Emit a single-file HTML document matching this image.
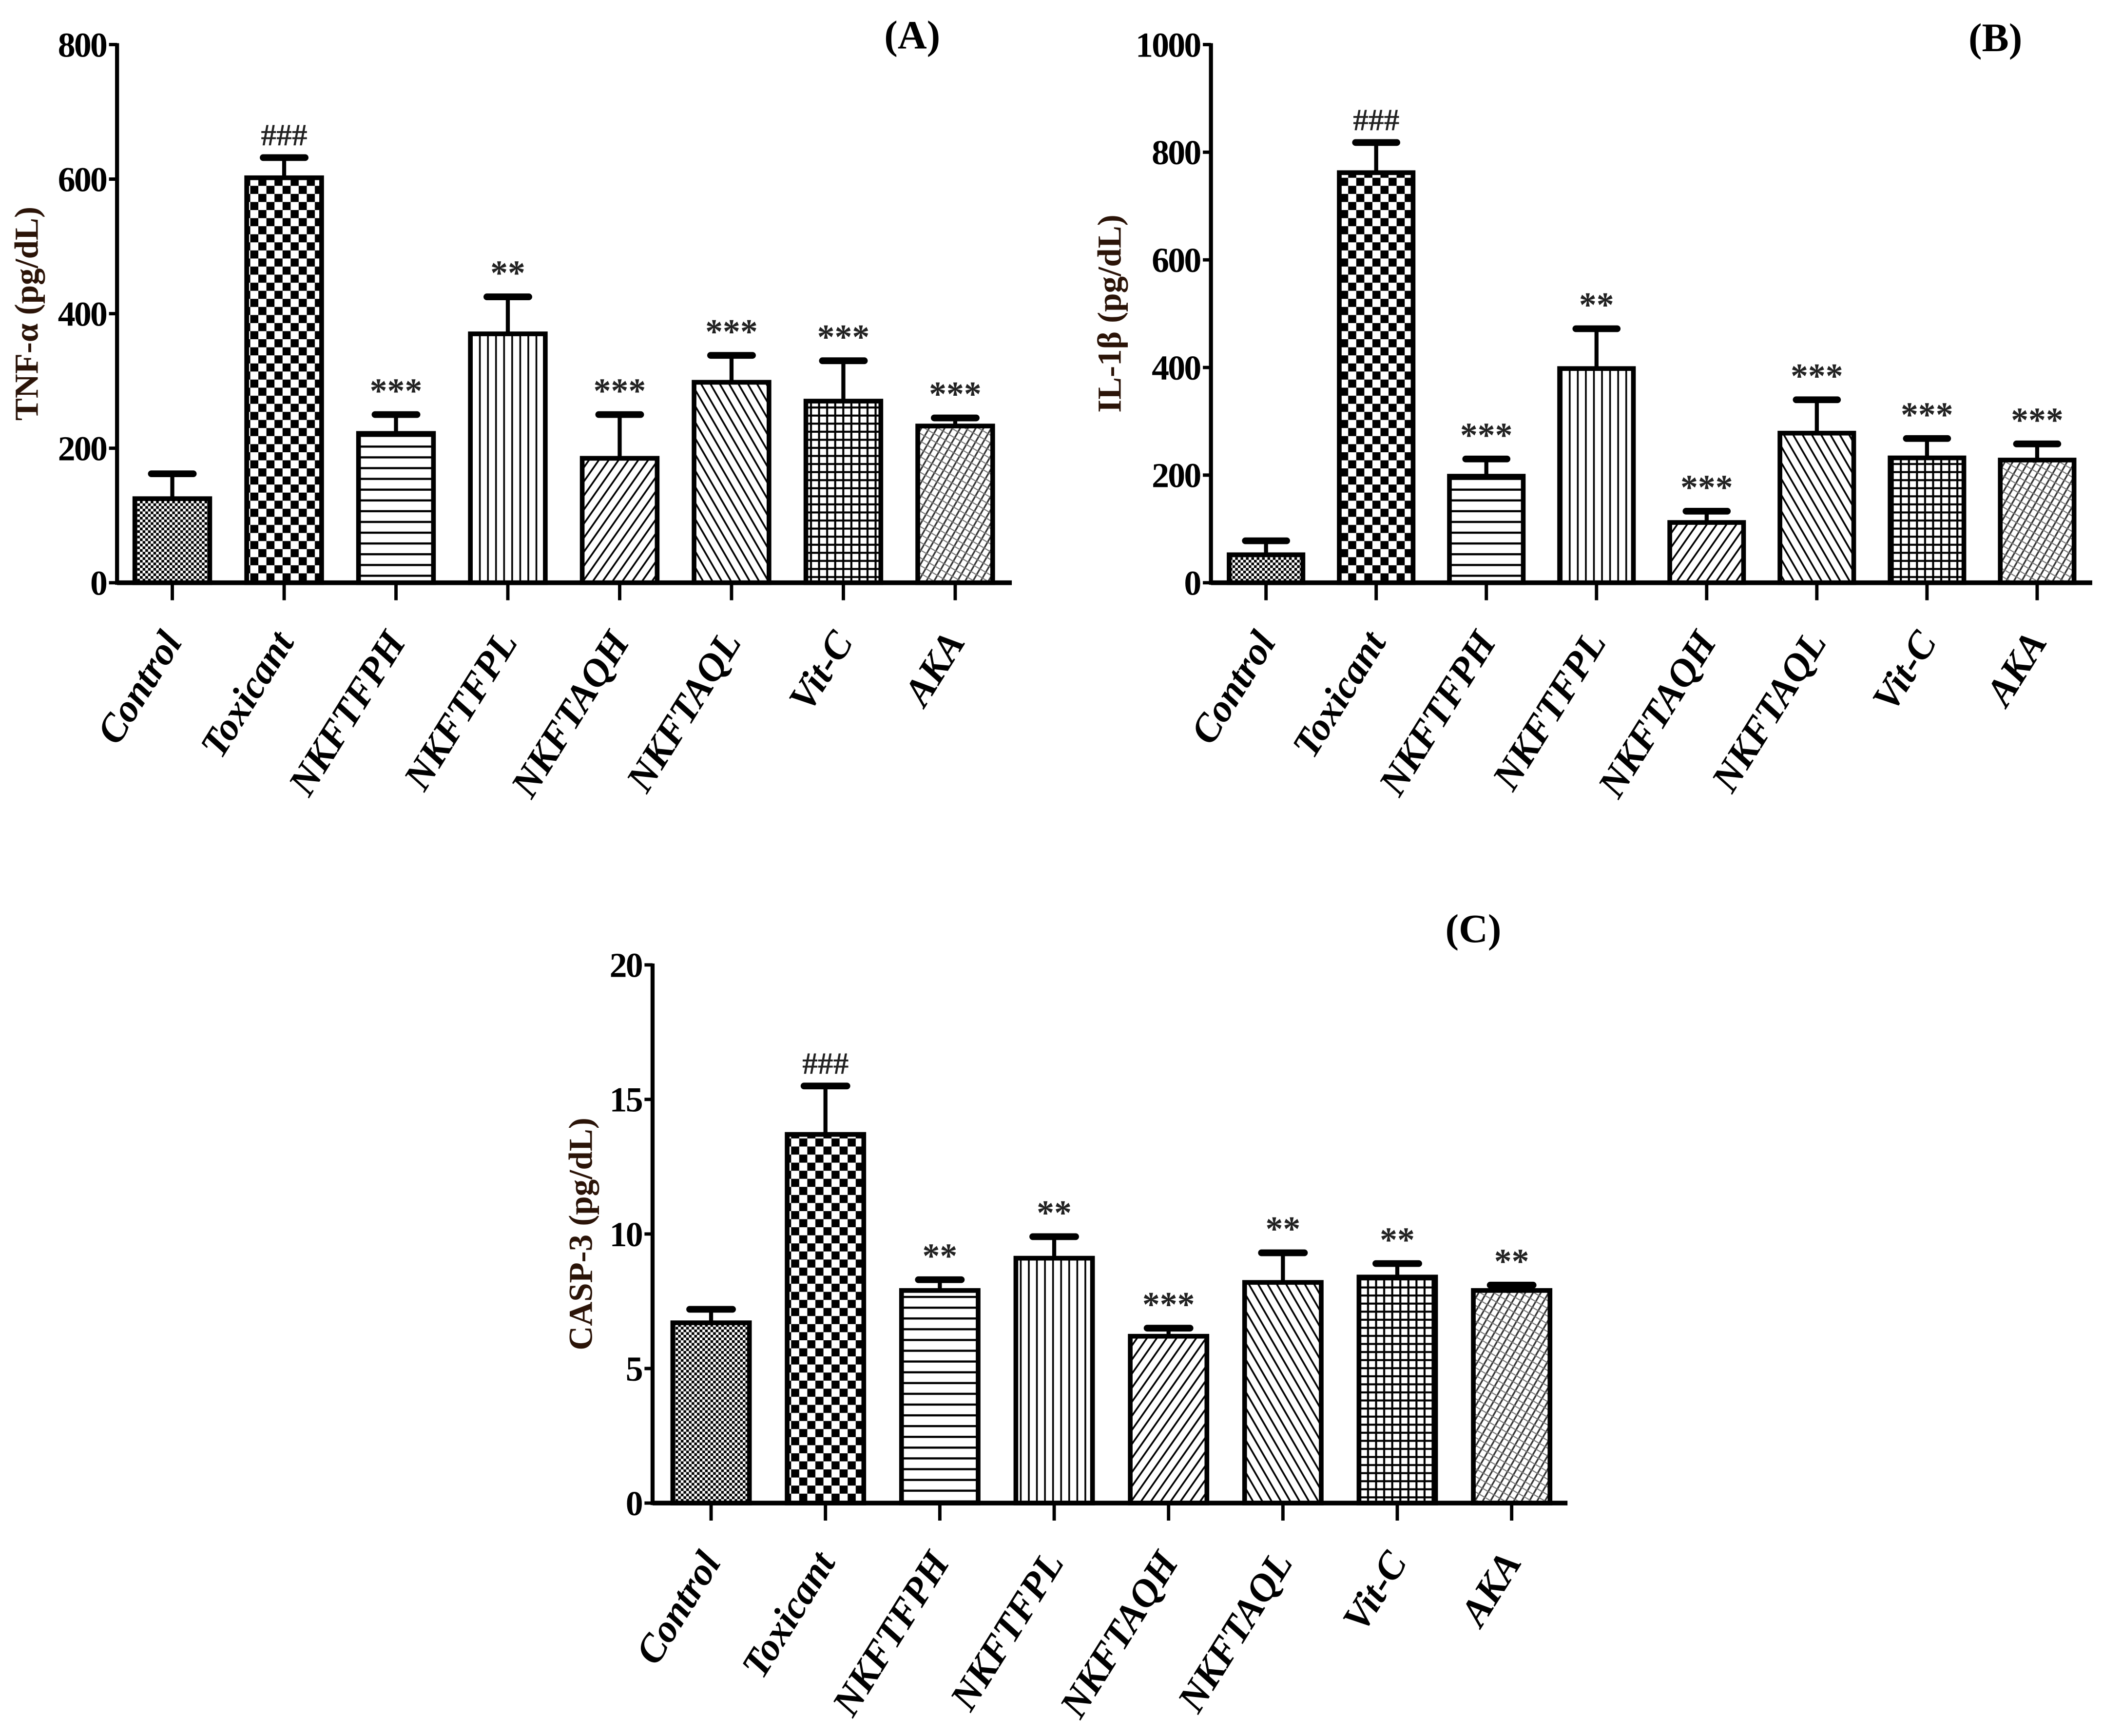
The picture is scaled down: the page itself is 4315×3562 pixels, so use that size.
<!DOCTYPE html>
<html><head><meta charset="utf-8"><style>
html,body{margin:0;padding:0;background:#fff;}
svg{display:block;}
text{font-family:"Liberation Serif",serif;font-weight:bold;}
</style></head><body>
<svg id="fig" width="4315" height="3562" viewBox="0 0 1563 1290" xmlns="http://www.w3.org/2000/svg">
<defs>
<pattern id="p0" width="4" height="4" patternUnits="userSpaceOnUse"><rect width="4" height="4" fill="#fff"/><rect width="2" height="2" fill="#000"/><rect x="2" y="2" width="2" height="2" fill="#000"/></pattern>
<pattern id="p1" width="12" height="12" patternUnits="userSpaceOnUse"><rect width="12" height="12" fill="#fff"/><rect width="6" height="6" fill="#000"/><rect x="6" y="6" width="6" height="6" fill="#000"/></pattern>
<pattern id="p2" width="8" height="8" patternUnits="userSpaceOnUse"><rect width="8" height="8" fill="#fff"/><rect y="3" width="8" height="1.6" fill="#000"/></pattern>
<pattern id="p3" width="6" height="6" patternUnits="userSpaceOnUse"><rect width="6" height="6" fill="#fff"/><rect x="2" width="1.3" height="6" fill="#000"/></pattern>
<pattern id="p4" width="6" height="6" patternUnits="userSpaceOnUse" patternTransform="rotate(35)"><rect width="6" height="6" fill="#fff"/><rect x="2" width="1.3" height="6" fill="#000"/></pattern>
<pattern id="p5" width="6" height="6" patternUnits="userSpaceOnUse" patternTransform="rotate(-30)"><rect width="6" height="6" fill="#fff"/><rect x="2" width="1.3" height="6" fill="#000"/></pattern>
<pattern id="p6" width="6" height="6" patternUnits="userSpaceOnUse"><rect width="6" height="6" fill="#fff"/><rect x="2" width="1.5" height="6" fill="#000"/><rect y="2" width="6" height="1.5" fill="#000"/></pattern>
<pattern id="p7" width="5" height="5" patternUnits="userSpaceOnUse" patternTransform="rotate(30)"><rect width="5" height="5" fill="#fff"/><rect x="1.5" width="1.2" height="5" fill="#333"/><rect y="1.5" width="5" height="0.8" fill="#777"/></pattern>
</defs>
</svg>
<script>
const categories = ["Control","Toxicant","NKFTFPH","NKFTFPL","NKFTAQH","NKFTAQL","Vit-C","AKA"];
const tnfValues = [125,602,222,370,185,298,270,233];
const tnfErrors = [162,632,250,425,250,338,330,245];
const tnfMarks = ["","###","***","**","***","***","***","***"];
const tnfTicks = [0,200,400,600,800];
const il1bValues = [52,762,198,398,112,278,232,228];
const il1bErrors = [78,818,230,472,133,340,268,258];
const il1bMarks = ["","###","***","**","***","***","***","***"];
const il1bTicks = [0,200,400,600,800,1000];
const caspValues = [6.7,13.7,7.9,9.1,6.2,8.2,8.4,7.9];
const caspErrors = [7.2,15.5,8.3,9.9,6.5,9.3,8.9,8.1];
const caspMarks = ["","###","**","**","***","**","**","**"];
const caspTicks = [0,5,10,15,20];

const NS="http://www.w3.org/2000/svg";
const svg=document.getElementById('fig');
function el(tag,attrs,parent){const e=document.createElementNS(NS,tag);for(const k in attrs)e.setAttribute(k,attrs[k]);(parent||svg).appendChild(e);return e;}

function panel(key,cfg,vals,errs,marks,ticks,ytitle,label){
  const g=el('g',{});
  
  
  const ymax=ticks[ticks.length-1];
  const y=v=>cfg.y0-(v/ymax)*(cfg.y0-cfg.ytop);
  const step=(cfg.xend-cfg.x0)/categories.length;
  const cx=i=>cfg.x0+step*(i+0.5)+cfg.shift;
  const bw=step*0.67;
  vals.forEach((v,i)=>{
    const ln=el('line',{x1:cx(i),x2:cx(i),y1:y(v),y2:y(errs[i]),stroke:'#000','stroke-width':3},g);
    
    
    const cap=el('line',{x1:cx(i)-bw*0.28,x2:cx(i)+bw*0.28,y1:y(errs[i]),y2:y(errs[i]),stroke:'#000','stroke-width':5,'stroke-linecap':'round'},g);
    
    
    const r=el('rect',{x:cx(i)-bw/2,y:y(v),width:bw,height:cfg.y0-y(v),fill:'url(#p'+i+')',stroke:'#000','stroke-width':3.5},g);
    
    
    if(marks[i]){
      const t=el('text',{x:cx(i),y:y(errs[i])-9,'text-anchor':'middle','font-size':marks[i][0]==='#'?23:26,'font-weight':'normal',fill:'#222'},g);
      t.textContent=marks[i];
      
      
    }
    const tk=el('line',{x1:cx(i),x2:cx(i),y1:cfg.y0,y2:cfg.y0+13,stroke:'#000','stroke-width':2.5},g);
    
    
    const lx=cx(i)+8, ly=cfg.y0+44;
    const xl=el('text',{x:lx,y:ly,'text-anchor':'end','font-size':29,'font-style':'italic',transform:'rotate(-58 '+lx+' '+ly+')'},g);
    xl.textContent=categories[i];
    
    
  });
  const ya=el('line',{x1:cfg.x0,x2:cfg.x0,y1:cfg.ytop-1,y2:cfg.y0+1.5,stroke:'#000','stroke-width':3},g);
  
  
  const xa=el('line',{x1:cfg.x0,x2:cfg.xend,y1:cfg.y0,y2:cfg.y0,stroke:'#000','stroke-width':3.5},g);
  
  
  ticks.forEach(tv=>{
    const tk=el('line',{x1:cfg.x0-6,x2:cfg.x0,y1:y(tv),y2:y(tv),stroke:'#000','stroke-width':2.5},g);
    
    
    const tl=el('text',{x:cfg.x0-8,y:y(tv)+9,'text-anchor':'end','font-size':26,'letter-spacing':'-1'},g);
    tl.textContent=tv;
    
    
  });
  const ty=(cfg.y0+cfg.ytop)/2;
  const yt=el('text',{x:cfg.titleX,y:ty,'text-anchor':'middle','font-size':25,fill:'#2b1408',transform:'rotate(-90 '+cfg.titleX+' '+ty+')'},g);
  yt.textContent=ytitle;
  
  
  const pl=el('text',{x:cfg.lx,y:cfg.ly,'text-anchor':'middle','font-size':30},g);
  pl.textContent=label;
  
  
}
panel('tnf',{x0:87,xend:752,ytop:33,y0:433,shift:-0.5,titleX:28,lx:678,ly:36},tnfValues,tnfErrors,tnfMarks,tnfTicks,'TNF-α (pg/dL)','(A)');
panel('il1b',{x0:900,xend:1555,ytop:33,y0:433,shift:0,titleX:833,lx:1483,ly:38},il1bValues,il1bErrors,il1bMarks,il1bTicks,'IL-1β (pg/dL)','(B)');
panel('casp3',{x0:485,xend:1165,ytop:717,y0:1117,shift:1,titleX:440,lx:1095,ly:700},caspValues,caspErrors,caspMarks,caspTicks,'CASP-3 (pg/dL)','(C)');
</script>
</body></html>
